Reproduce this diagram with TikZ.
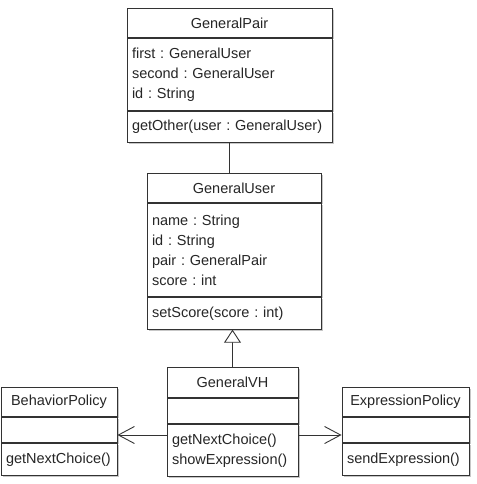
\documentclass[tikz,border=0pt]{standalone}
\usepackage{fontspec}
\setmainfont{Liberation Sans}
\usetikzlibrary{arrows.meta,shadows}
\frenchspacing

\tikzset{
  umlbox/.style={draw=black!80, line width=0.9pt, fill=white, anchor=north, inner ysep=0pt,
    drop shadow={shadow xshift=1.5pt, shadow yshift=-1.5pt, fill=black!22, opacity=1}},
  umlhead/.style={umlbox, inner xsep=0pt, align=center, minimum height=29pt},
  umlpart/.style={umlbox, inner xsep=5pt, align=left},
  uses/.style={draw=black!80, line width=0.9pt, -{Straight Barb[length=16pt,width=17pt]}},
  isa/.style={draw=black!80, line width=0.9pt, -{Triangle[open,length=13pt,width=17pt,fill=white]}}
}

\begin{document}
\begin{tikzpicture}[x=1pt, y=-1pt, every node/.style={font=\fontsize{14.5}{20}\selectfont, text=black!85}]
    \useasboundingbox (0,0) rectangle (476,484);

    % GeneralPair
    \node[umlhead, minimum width=205pt] (pairname) at (229.5,8) {GeneralPair};
    \node[umlpart, text width=195pt, minimum height=72pt] (pairattr) at (pairname.south) {first : GeneralUser\\second : GeneralUser\\id : String};
    \node[umlpart, text width=195pt, minimum height=31pt] (pairops) at (pairattr.south) {getOther(user : GeneralUser)};

    % GeneralUser
    \node[umlhead, minimum width=174pt] (username) at (234,173) {GeneralUser};
    \node[umlpart, text width=164pt, minimum height=93pt] (userattr) at (username.south) {name : String\\id : String\\pair : GeneralPair\\score : int};
    \node[umlpart, text width=164pt, minimum height=32pt] (userops) at (userattr.south) {setScore(score : int)};

    % GeneralVH
    \node[umlhead, minimum width=131pt, minimum height=30pt] (vhname) at (232.5,367) {GeneralVH};
    \node[umlpart, text width=121pt, minimum height=25pt] (vhattr) at (vhname.south) {};
    \node[umlpart, text width=121pt, minimum height=52pt] (vhops) at (vhattr.south) {getNextChoice()\\showExpression()};

    % Policies
    \node[umlhead, minimum width=116pt] (bpname) at (59,387) {BehaviorPolicy};
    \node[umlpart, text width=106pt, minimum height=25pt] (bpattr) at (bpname.south) {};
    \node[umlpart, text width=106pt, minimum height=32pt] (bpops) at (bpattr.south) {getNextChoice()};

    \node[umlhead, minimum width=127pt] (epname) at (405.5,387) {ExpressionPolicy};
    \node[umlpart, text width=117pt, minimum height=25pt] (epattr) at (epname.south) {};
    \node[umlpart, text width=117pt, minimum height=32pt] (epops) at (epattr.south) {sendExpression()};

    % Relations
    \draw[draw=black!80, line width=0.9pt] (pairops.south) -- (pairops.south |- username.north);
    \draw[isa] (vhname.north) -- (vhname.north |- userops.south);

    \coordinate (callrow) at (0,435);
    \draw[uses] (vhops.west |- callrow) -- (bpops.east |- callrow);
    \draw[uses] (vhops.east |- callrow) -- (epattr.west |- callrow);
\end{tikzpicture}
\end{document}
